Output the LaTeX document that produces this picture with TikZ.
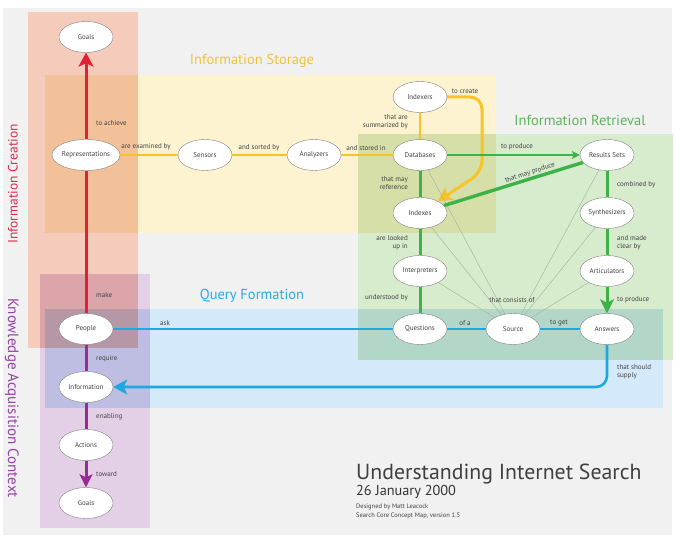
\documentclass[tikz,border=0pt]{standalone}
\usepackage{fontspec}
\setmainfont{PT Sans}
\usetikzlibrary{shapes.geometric,arrows.meta}
\definecolor{bggray}{RGB}{241,241,241}
\definecolor{cre}{RGB}{245,203,188}
\definecolor{sto}{RGB}{253,243,208}
\definecolor{ret}{RGB}{215,235,205}
\definecolor{qry}{RGB}{212,234,250}
\definecolor{kno}{RGB}{228,208,230}
\definecolor{cred}{RGB}{226,32,52}
\definecolor{cyel}{RGB}{246,196,40}
\definecolor{cgrn}{RGB}{60,178,72}
\definecolor{cblu}{RGB}{30,168,226}
\definecolor{cpur}{RGB}{150,45,150}
\definecolor{cthin}{RGB}{170,182,165}
\definecolor{txt}{RGB}{65,65,65}
\definecolor{tsto}{RGB}{240,195,55}
\definecolor{tret}{RGB}{90,180,90}
\definecolor{tqry}{RGB}{40,170,230}
\definecolor{tcre}{RGB}{215,45,75}
\definecolor{tkno}{RGB}{150,65,165}
\pgfdeclarelayer{regions}
\pgfdeclarelayer{edges}
\pgfsetlayers{regions,edges,main}
\tikzset{
  concept/.style={ellipse, draw=black!50, line width=0.4pt, fill=white,
    minimum width=54pt, minimum height=31pt, inner sep=0pt, text=txt,
    font=\fontsize{7}{7.5}\selectfont},
  lbl/.style={text=txt, font=\fontsize{7}{7.6}\selectfont, inner sep=0pt},
  areatitle/.style={font=\fontsize{14.5}{16}\selectfont, inner sep=0pt},
  redline/.style={draw=cred, line width=3pt},
  yelline/.style={draw=cyel, line width=2.6pt},
  grnline/.style={draw=cgrn, line width=3pt},
  bluline/.style={draw=cblu, line width=2.6pt},
  purline/.style={draw=cpur, line width=3pt},
  thinline/.style={draw=cthin, line width=0.5pt},
  bigtip/.style={-{Stealth[length=14pt,width=15pt,inset=3.5pt]}},
  smalltip/.style={-{Stealth[length=8pt,width=8pt,inset=2pt]}},
}
\begin{document}
\begin{tikzpicture}[x=1pt,y=-1pt]
\useasboundingbox (0,0) rectangle (675,545);
% ---------- regions ----------
\begin{pgfonlayer}{regions}
  \fill[white] (0,0) rectangle (675,545);
  \fill[bggray] (3,8) rectangle (672,535);
  \fill[white] (28,12) rectangle (138,348);
  \fill[white] (45,75) rectangle (496,233);
  \fill[white] (358,134) rectangle (673,360);
  \fill[white] (45,309) rectangle (663,408);
  \fill[white] (40,274) rectangle (150,528);
  \begin{scope}[blend mode=multiply]
    \fill[cre] (28,12) rectangle (138,348);
    \fill[sto] (45,75) rectangle (496,233);
    \fill[ret] (358,134) rectangle (673,360);
    \fill[qry] (45,309) rectangle (663,408);
    \fill[kno] (40,274) rectangle (150,528);
  \end{scope}
\end{pgfonlayer}
% ---------- area titles ----------
\node[areatitle, text=tsto] (tStorage) at (252,61) {Information Storage};
\node[areatitle, text=tret] (tRetrieval) at (580,120) {Information Retrieval};
\node[areatitle, text=tqry] (tQuery) at (252,296) {Query Formation};
\node[areatitle, text=tcre, rotate=90, font=\fontsize{13.5}{15}\selectfont] (tCreation) at (13,184) {Information Creation};
\node[areatitle, text=tkno, rotate=-90, font=\fontsize{15}{17}\selectfont] (tKnowledge) at (12,398) {Knowledge Acquisition Context};
% ---------- concepts ----------
\node[concept] (goalsTop) at (86,37) {Goals};
\node[concept] (repr) at (86,155) {Representations};
\node[concept] (sensors) at (205,155) {Sensors};
\node[concept] (analyzers) at (314,155) {Analyzers};
\node[concept] (indexers) at (420,97) {Indexers};
\node[concept] (databases) at (420,155) {Databases};
\node[concept] (indexes) at (420,213) {Indexes};
\node[concept] (interp) at (420,271) {Interpreters};
\node[concept] (questions) at (420,329) {Questions};
\node[concept] (source) at (513,329) {Source};
\node[concept] (results) at (607,155) {Results Sets};
\node[concept] (synth) at (607,213) {Synthesizers};
\node[concept] (artic) at (607,271) {Articulators};
\node[concept] (answers) at (607,329) {Answers};
\node[concept] (people) at (86,329) {People};
\node[concept] (information) at (86,387) {Information};
\node[concept] (actions) at (86,445) {Actions};
\node[concept] (goalsBot) at (86,503) {Goals};
\coordinate (yelA) at (482,97);
\coordinate (yelB) at (482,172);
\coordinate (bluA) at (607,387);
% ---------- connectors ----------
\begin{pgfonlayer}{edges}
  \draw[redline] (people) -- (repr);
  \draw[redline, bigtip] (repr) -- (goalsTop);
  \draw[purline] (people) -- (information);
  \draw[purline] (information) -- (actions);
  \draw[purline, -{Stealth[length=13pt,width=13pt,inset=3pt]}] (actions) -- (goalsBot);
  \draw[yelline] (repr) -- (sensors);
  \draw[yelline] (sensors) -- (analyzers);
  \draw[yelline] (analyzers) -- (databases);
  \draw[yelline] (databases) -- (indexers);
  \draw[yelline, line width=3pt, rounded corners=12pt, bigtip] (indexers.east) -- (yelA) -- (yelB) -- (indexes);
  \draw[thinline] (source) -- (databases);
  \draw[thinline] (source) -- (indexes);
  \draw[thinline] (source) -- (interp);
  \draw[thinline] (source) -- (results);
  \draw[thinline] (source) -- (synth);
  \draw[thinline] (source) -- (artic);
  \draw[grnline] (databases) -- (indexes);
  \draw[grnline] (indexes) -- (interp);
  \draw[grnline] (interp) -- (questions);
  \draw[grnline, line width=1.8pt, smalltip] (databases) -- (results);
  \draw[grnline, line width=3.4pt] (indexes) -- (results);
  \draw[grnline] (results) -- (synth);
  \draw[grnline] (synth) -- (artic);
  \draw[grnline, -{Stealth[length=14pt,width=14pt,inset=3.5pt]}] (artic) -- (answers);
  \draw[bluline] (people) -- (questions);
  \draw[bluline] (questions) -- (source);
  \draw[bluline] (source) -- (answers);
  \draw[bluline, rounded corners=11pt, bigtip] (answers) -- (bluA) -- (information.east);
\end{pgfonlayer}
% ---------- connector labels ----------
\node[lbl, anchor=west] (l1) at (96,123) {to achieve};
\node[lbl, anchor=west] (l2) at (96,295) {make};
\node[lbl, anchor=west] (l3) at (96,359) {require};
\node[lbl, anchor=west] (l4) at (96,417) {enabling};
\node[lbl, anchor=west] (l5) at (96,474) {toward};
\node[lbl] (l6) at (146,147) {are examined by};
\node[lbl] (l7) at (259,148) {and sorted by};
\node[lbl] (l8) at (366,148) {and stored in};
\node[lbl, anchor=east, align=right] (l9) at (408,122) {that are\\summarized by};
\node[lbl, anchor=east, align=right] (l10) at (408,183) {that may\\reference};
\node[lbl, anchor=east, align=right] (l11) at (408,243) {are looked\\up in};
\node[lbl, anchor=east] (l12) at (408,298) {understood by};
\node[lbl] (l13) at (465,91) {to create};
\node[lbl] (l14) at (517,147) {to produce};
\node[lbl, rotate=18.3] (l15) at (530,173) {that may produce};
\node[lbl, anchor=west] (l16) at (617,185) {combined by};
\node[lbl, anchor=west, align=left] (l17) at (617,243) {and made\\clear by};
\node[lbl, anchor=west] (l18) at (617,300) {to produce};
\node[lbl] (l19) at (512,300) {that consists of};
\node[lbl] (l20) at (465,323) {of a};
\node[lbl] (l21) at (559,323) {to get};
\node[lbl, anchor=west, align=left] (l22) at (617,372) {that should\\supply};
\node[lbl, anchor=west] (l23) at (160,323) {ask};
% ---------- title block ----------
\node[anchor=base west, inner sep=0pt, text=black!75, font=\fontsize{21.8}{24}\selectfont] (mainTitle) at (356,479) {Understanding Internet Search};
\node[anchor=base west, inner sep=0pt, text=black!80, font=\fontsize{14.3}{16}\selectfont] (dateLine) at (356,495) {26 January 2000};
\node[anchor=west, inner sep=0pt, text=txt, font=\fontsize{6.5}{7}\selectfont] (design) at (356,507) {Designed by Matt Leacock};
\node[anchor=west, inner sep=0pt, text=txt, font=\fontsize{6.5}{7}\selectfont] (version) at (356,516) {Search Core Concept Map, version 1.5};
\end{tikzpicture}
\end{document}
